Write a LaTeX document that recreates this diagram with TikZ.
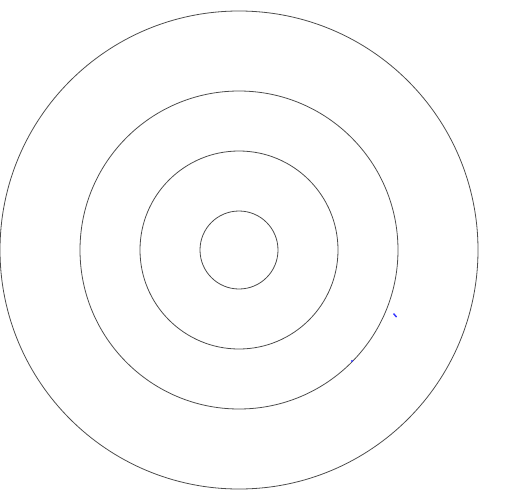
\documentclass[tikz,border=0pt]{standalone}
\begin{document}
\begin{tikzpicture}[x=1pt,y=-1pt,
  ring/.style={draw=black!70,line width=0.8pt,circle,inner sep=0pt},
  bluedot/.style={fill=blue!80}]
\useasboundingbox (0,0) rectangle (515,496);
\coordinate (c) at (239,250);
\node[ring,minimum size=478pt] (r4) at (c) {};
\node[ring,minimum size=318pt] (r3) at (c) {};
\node[ring,minimum size=198pt] (r2) at (c) {};
\node[ring,minimum size=78pt] (r1) at (c) {};
\fill[bluedot] (394,313) -- (397,316.5) -- (396,317.5) -- (393,314) -- cycle;
\fill[bluedot] (352,361) circle (1.2pt);
\end{tikzpicture}
\end{document}
